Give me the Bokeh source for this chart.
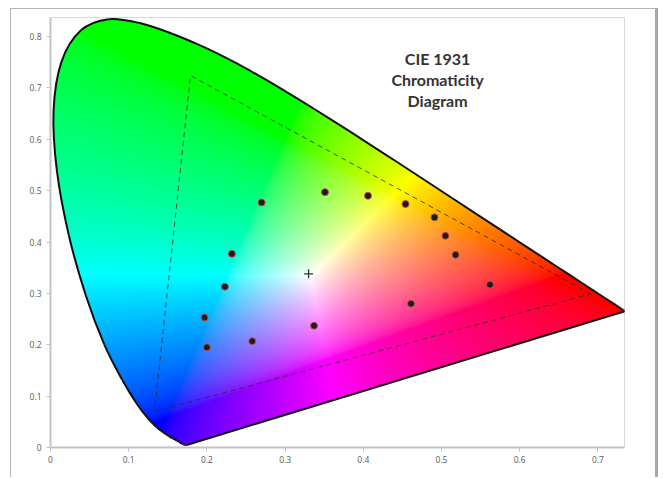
import numpy as np
from bokeh.plotting import figure
from bokeh.models import FixedTicker, Range1d, ColumnDataSource
from bokeh.core.properties import value
from bokeh.embed import file_html
from bokeh.resources import INLINE

# CIE 1931 2-degree spectral locus (380..700 nm, 5 nm steps)
locus_x = [0.1741, 0.1740, 0.1738, 0.1736, 0.1733, 0.1730, 0.1726, 0.1721, 0.1714, 0.1703,
           0.1689, 0.1669, 0.1644, 0.1611, 0.1566, 0.1510, 0.1440, 0.1355, 0.1241, 0.1096,
           0.0913, 0.0687, 0.0454, 0.0235, 0.0082, 0.0039, 0.0139, 0.0389, 0.0743, 0.1142,
           0.1547, 0.1929, 0.2296, 0.2658, 0.3016, 0.3373, 0.3731, 0.4087, 0.4441, 0.4788,
           0.5125, 0.5448, 0.5752, 0.6029, 0.6270, 0.6482, 0.6658, 0.6801, 0.6915, 0.7006,
           0.7079, 0.7140, 0.7190, 0.7230, 0.7260, 0.7283, 0.7300, 0.7311, 0.7320, 0.7327,
           0.7334, 0.7340, 0.7344, 0.7346, 0.7347]
locus_y = [0.0050, 0.0050, 0.0049, 0.0049, 0.0048, 0.0048, 0.0048, 0.0048, 0.0051, 0.0058,
           0.0069, 0.0086, 0.0109, 0.0138, 0.0177, 0.0227, 0.0297, 0.0399, 0.0578, 0.0868,
           0.1327, 0.2007, 0.2950, 0.4127, 0.5384, 0.6548, 0.7502, 0.8120, 0.8338, 0.8262,
           0.8059, 0.7816, 0.7543, 0.7243, 0.6923, 0.6589, 0.6245, 0.5896, 0.5547, 0.5202,
           0.4866, 0.4544, 0.4242, 0.3965, 0.3725, 0.3514, 0.3340, 0.3197, 0.3083, 0.2993,
           0.2920, 0.2859, 0.2809, 0.2770, 0.2740, 0.2717, 0.2700, 0.2689, 0.2680, 0.2673,
           0.2666, 0.2660, 0.2656, 0.2654, 0.2653]

# dashed gamut triangle (R, G, B)
gamut_x = [0.691, 0.179, 0.133]
gamut_y = [0.299, 0.724, 0.070]

# measured samples
sample_x = [0.270, 0.351, 0.406, 0.454, 0.491, 0.505, 0.518, 0.562, 0.461,
            0.232, 0.223, 0.197, 0.200, 0.258, 0.337]
sample_y = [0.477, 0.497, 0.490, 0.474, 0.448, 0.412, 0.375, 0.317, 0.280,
            0.377, 0.313, 0.253, 0.195, 0.207, 0.237]

# white point marker
white_x = [0.330]
white_y = [0.338]

x_ticks = [0, 0.1, 0.2, 0.3, 0.4, 0.5, 0.6, 0.7]
y_ticks = [0, 0.1, 0.2, 0.3, 0.4, 0.5, 0.6, 0.7, 0.8]
x_tick_labels = ["0", "0.1", "0.2", "0.3", "0.4", "0.5", "0.6", "0.7"]
y_tick_labels = ["0", "0.1", "0.2", "0.3", "0.4", "0.5", "0.6", "0.7", "0.8"]

title_lines = ["CIE 1931", "Chromaticity", "Diagram"]

X_MAX = 0.734
Y_MAX = 0.837

p = figure(width=648, height=469, output_backend="svg", toolbar_location=None,
           x_range=Range1d(0, X_MAX), y_range=Range1d(0, Y_MAX),
           min_border_left=39, min_border_right=35, min_border_top=8, min_border_bottom=31)
p.styles = {"margin-left": "10px", "margin-top": "8px", "border-left": "1px solid #b4b4b4",
            "border-top": "1px solid #b4b4b4", "border-right": "3px solid #a8a8a8"}
p.background_fill_color = "white"
p.border_fill_color = "white"
p.outline_line_color = "#d9d9d9"
p.outline_line_width = 1
p.xgrid.visible = False
p.ygrid.visible = False

# --- smooth (Catmull-Rom) rendering of the locus: bezier control points ---
lx = np.array(locus_x)
ly = np.array(locus_y)
px_ = np.concatenate([[lx[0]], lx, [lx[-1]]])
py_ = np.concatenate([[ly[0]], ly, [ly[-1]]])
x0, y0 = px_[1:-2], py_[1:-2]
x1, y1 = px_[2:-1], py_[2:-1]
cx0 = x0 + (px_[2:-1] - px_[:-3]) / 6
cy0 = y0 + (py_[2:-1] - py_[:-3]) / 6
cx1 = x1 - (px_[3:] - px_[1:-2]) / 6
cy1 = y1 - (py_[3:] - py_[1:-2]) / 6

# dense outline (for clipping the colour field only)
t = np.linspace(0, 1, 12)[:, None]
bx = ((1 - t) ** 3 * x0 + 3 * (1 - t) ** 2 * t * cx0 + 3 * (1 - t) * t ** 2 * cx1 + t ** 3 * x1).T.ravel()
by = ((1 - t) ** 3 * y0 + 3 * (1 - t) ** 2 * t * cy0 + 3 * (1 - t) * t ** 2 * cy1 + t ** 3 * y1).T.ravel()

# --- colour field inside the spectral locus ---
nx, ny = 574, 430
gx = (np.arange(nx) + 0.5) / nx * X_MAX
gy = (np.arange(ny) + 0.5) / ny * Y_MAX
XX, YY = np.meshgrid(gx, gy)
inside = np.zeros(XX.shape, dtype=bool)
j = len(bx) - 1
with np.errstate(divide="ignore", invalid="ignore"):
    for i in range(len(bx)):
        crosses = (by[i] > YY) != (by[j] > YY)
        xint = (bx[j] - bx[i]) * (YY - by[i]) / (by[j] - by[i]) + bx[i]
        inside ^= crosses & (XX < xint)
        j = i
Yc = np.maximum(YY, 1e-6)
Xc = XX / Yc
Zc = (1 - XX - YY) / Yc
# sRGB primaries, balanced to an equal-energy white
R = (3.2406 * Xc - 1.5372 - 0.4986 * Zc) / 1.2048
G = (-0.9689 * Xc + 1.8758 + 0.0415 * Zc) / 0.9484
B = (0.0557 * Xc - 0.2040 + 1.0570 * Zc) / 0.9087
rgb = np.clip(np.stack([R, G, B], axis=-1), 0, None)
mx = np.maximum(rgb.max(axis=-1, keepdims=True), 1e-9)
rgb = rgb / mx
rgb = np.power(rgb, 1 / 1.8)
img = np.zeros((ny, nx), dtype=np.uint32)
view = img.view(dtype=np.uint8).reshape((ny, nx, 4))
view[..., 0] = (rgb[..., 0] * 255).astype(np.uint8)
view[..., 1] = (rgb[..., 1] * 255).astype(np.uint8)
view[..., 2] = (rgb[..., 2] * 255).astype(np.uint8)
view[..., 3] = np.where(inside, 255, 0).astype(np.uint8)
p.image_rgba(image=[img], x=0, y=0, dw=X_MAX, dh=Y_MAX)

# spectral locus outline, smooth, plus purple line
p.bezier(x0=x0, y0=y0, x1=x1, y1=y1, cx0=cx0, cy0=cy0, cx1=cx1, cy1=cy1,
         line_color="#111111", line_width=2)
p.line([locus_x[-1], locus_x[0]], [locus_y[-1], locus_y[0]], line_color="#111111", line_width=2)

# dashed gamut triangle
p.line(gamut_x + [gamut_x[0]], gamut_y + [gamut_y[0]], line_color="#2a2a2a",
       line_alpha=0.8, line_width=1, line_dash="5 4")

# sample points
p.scatter(sample_x, sample_y, size=7, fill_color="#1c1c1c", line_color="#c0504d", line_width=1)

# white point
p.scatter(white_x, white_y, marker="cross", size=9, line_color="#333333", line_width=1.3)

# title text inside plot
tsrc = ColumnDataSource(dict(x=[0.495] * 3, y=[0.716] * 3, t=title_lines, off=[-21, 0, 21]))
p.text(x="x", y="y", text="t", y_offset="off", source=tsrc, text_align="center",
       text_baseline="middle", text_font=value("Lato"), text_font_style="bold",
       text_font_size="16px", text_color="#333333")

for ax, ticks, labels in ((p.xaxis[0], x_ticks, x_tick_labels), (p.yaxis[0], y_ticks, y_tick_labels)):
    ax.ticker = FixedTicker(ticks=ticks)
    ax.major_label_overrides = {t: l for t, l in zip(ticks, labels)}
    ax.minor_tick_line_color = None
    ax.axis_line_color = "#c4c4c4"
    ax.axis_line_width = 2
    ax.major_tick_line_color = "#c4c4c4"
    ax.major_tick_line_width = 1
    ax.major_tick_in = 0
    ax.major_tick_out = 4
    ax.major_label_text_font = "Open Sans"
    ax.major_label_text_font_size = "8.5px"
    ax.major_label_text_color = "#595959"
p.xaxis.major_label_standoff = 4
p.yaxis.major_label_standoff = 5

open("out.html", "w").write(file_html(p, INLINE))
